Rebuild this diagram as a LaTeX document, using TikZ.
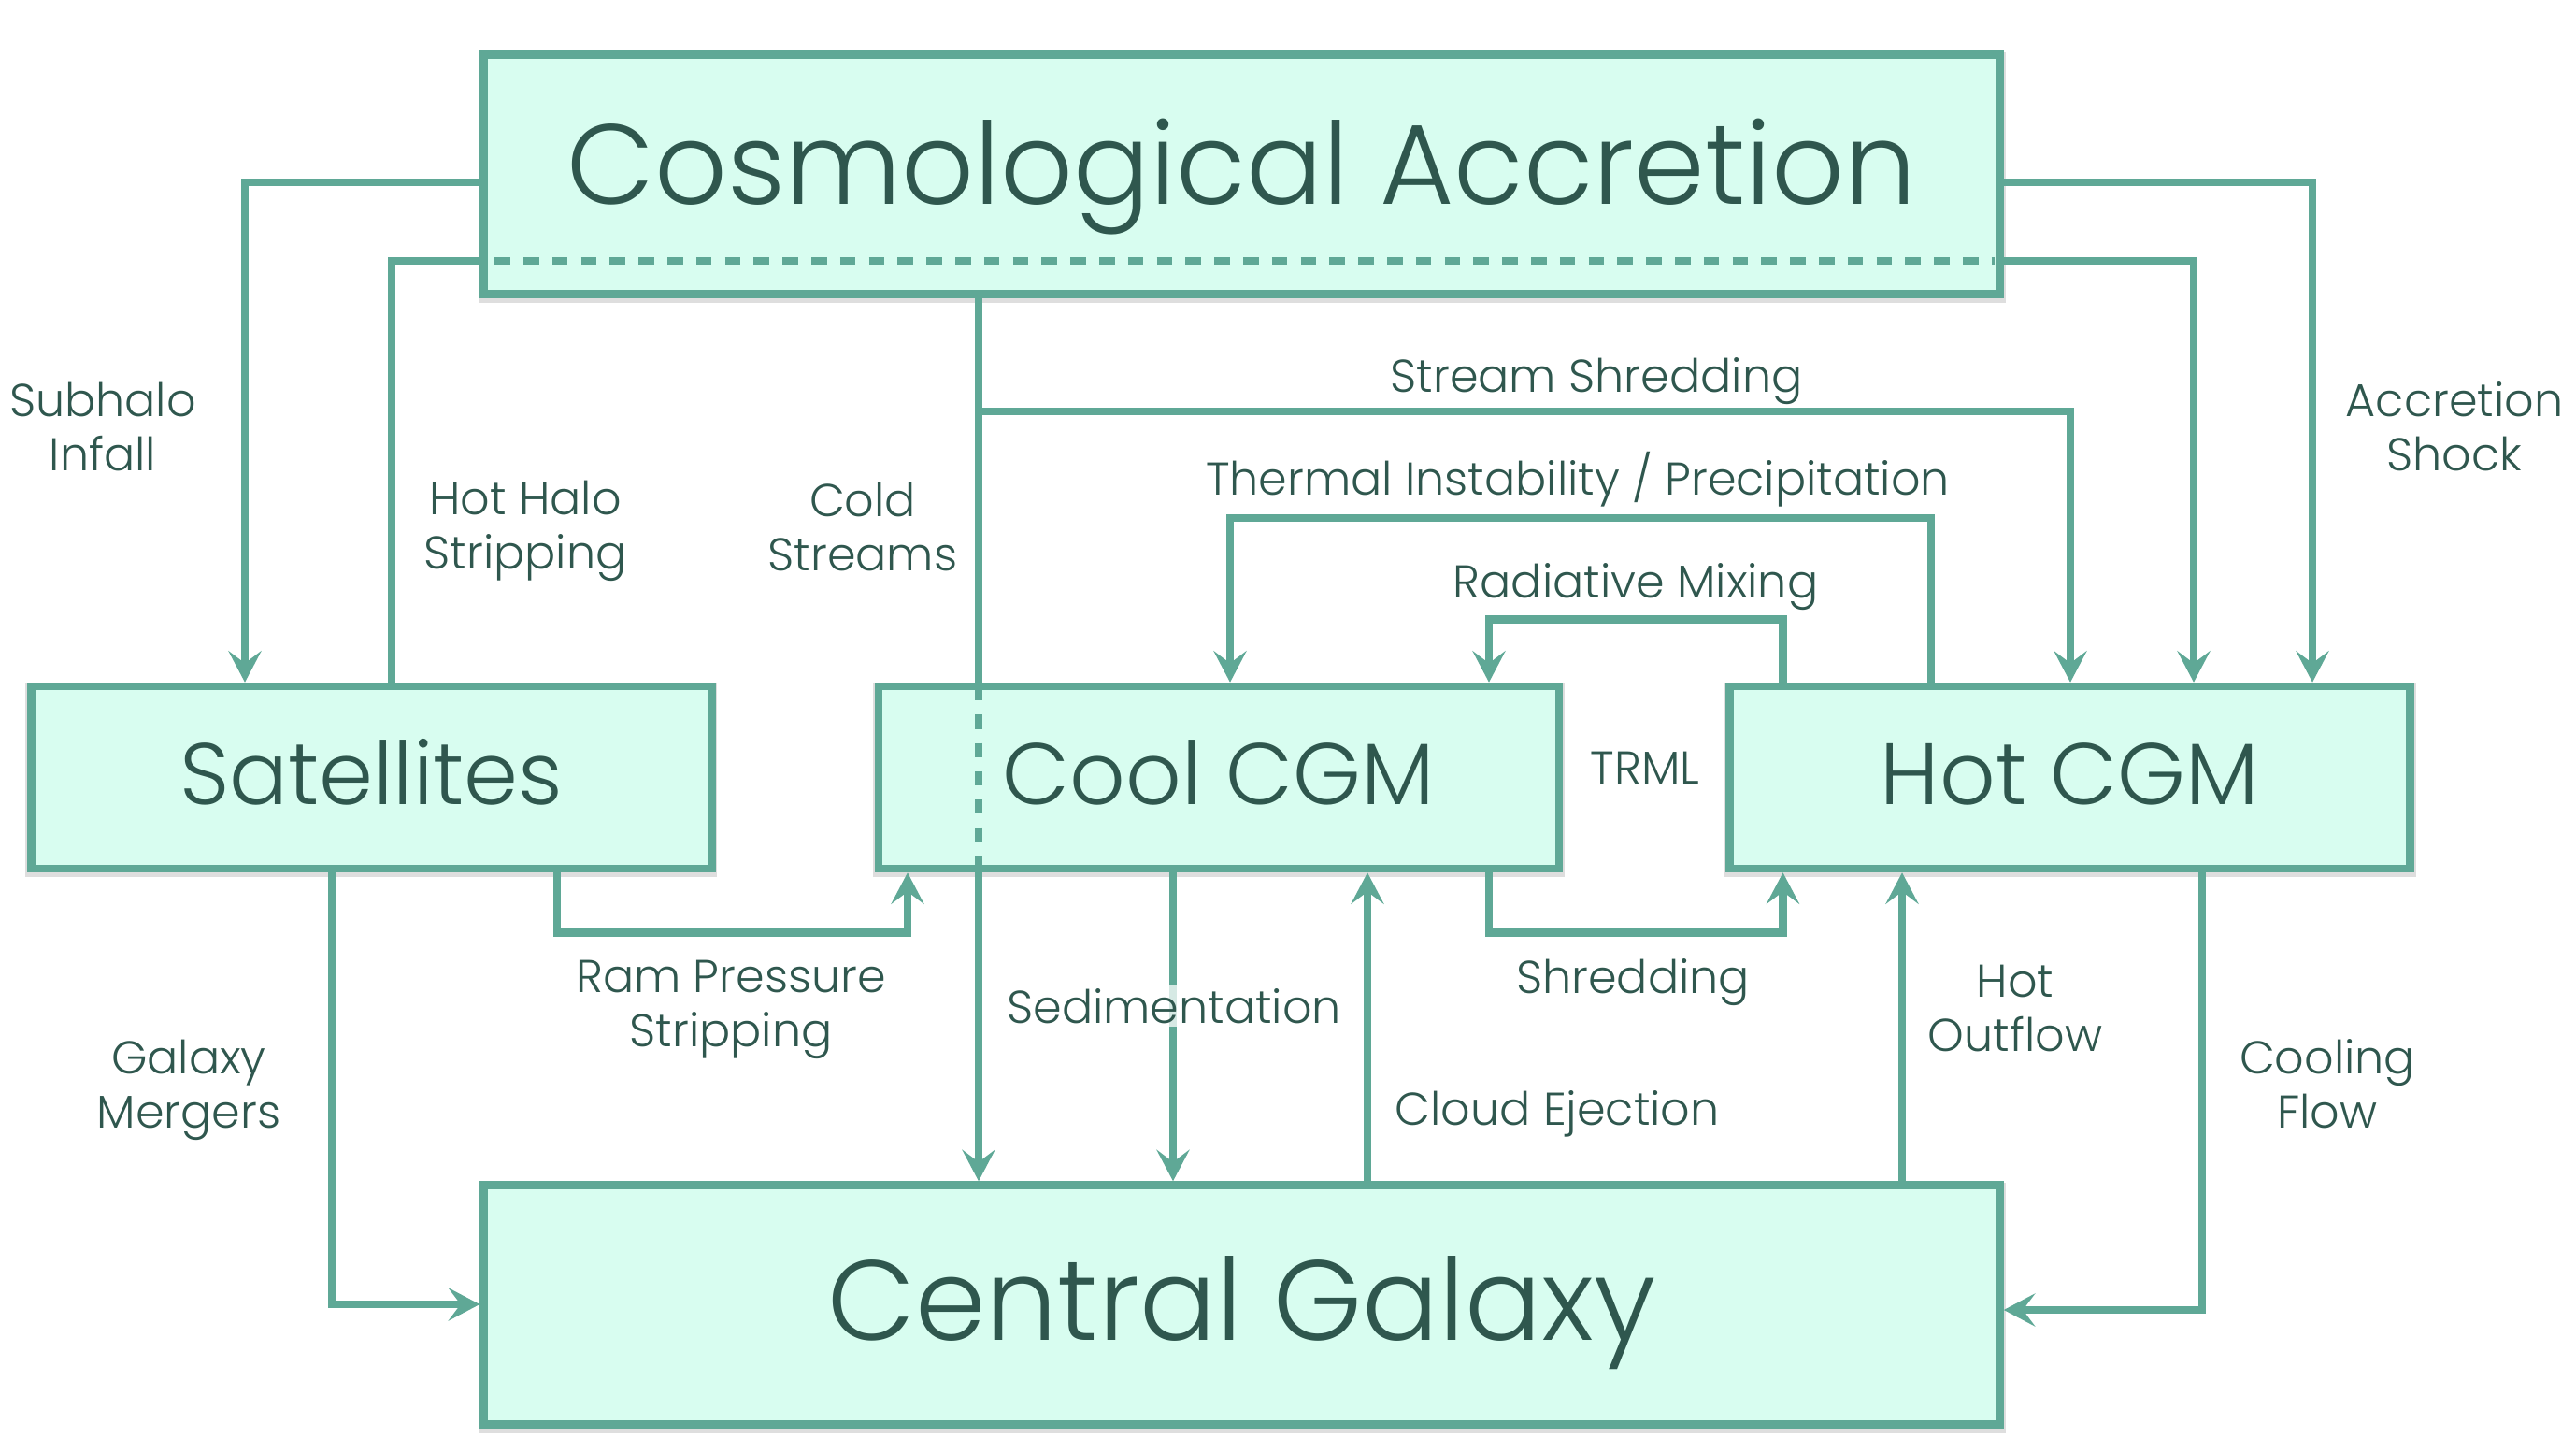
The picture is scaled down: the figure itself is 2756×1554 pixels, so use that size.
\documentclass[tikz,border=0pt]{standalone}
\usepackage{fontspec}
\IfFontExistsTF{Poppins Light}{\setmainfont{Poppins Light}}{\setmainfont{Poppins}}
\usetikzlibrary{arrows.meta,calc}
\definecolor{linec}{HTML}{5FA896}
\definecolor{fillc}{HTML}{D8FDF0}
\definecolor{textc}{HTML}{2F574E}
\newcommand{\lblfont}{\fontsize{12.3pt}{14.4pt}\selectfont}
\newcommand{\midfont}{\fontsize{23.3pt}{28pt}\selectfont}
\newcommand{\bigfont}{\fontsize{30.4pt}{36pt}\selectfont}
\begin{document}
\begin{tikzpicture}[x=0.25pt,y=-0.25pt,
  boxshadow/.style={preaction={draw=black,fill=black,opacity=0.13,line width=3pt,transform canvas={yshift=-0.75pt}}},
  box/.style={boxshadow,draw=linec,fill=fillc,line width=2.125pt,text=textc,inner sep=0pt},
  bigbox/.style={box,minimum width=405.5pt,minimum height=64pt,font=\bigfont,text depth=0pt},
  midbox/.style={box,minimum width=182pt,minimum height=48.75pt,font=\midfont,text depth=0pt,text height=14.25pt},
  flow/.style={draw=linec,line width=2.125pt},
  arr/.style={flow,-{Stealth[length=8.4pt,width=8.8pt,inset=3.3pt]}},
  lbl/.style={text=textc,font=\lblfont,align=center,inner sep=0pt,anchor=base}
]
\useasboundingbox (0,0) rectangle (2756,1554);

% boxes
\node[bigbox,text height=16pt] (cosmo) at (1328.5,186.5) {Cosmological Accretion};
\node[bigbox,text height=18.75pt] (central) at (1328.5,1395.5) {Central Galaxy};
\node[midbox] (sat) at (397.25,831.5) {Satellites};
\node[midbox] (cool) at (1303.75,831.5) {Cool CGM};
\node[midbox] (hot) at (2214.5,831.5) {Hot CGM};

% waypoints
\coordinate (p1) at (262,195);
\coordinate (p2) at (419,279);
\coordinate (p3) at (2347,279);
\coordinate (p4) at (2474,195);
\coordinate (p5) at (1047,440);
\coordinate (p6) at (2215,440);
\coordinate (p7) at (2066,554);
\coordinate (p8) at (1316,554);
\coordinate (p9) at (1907.5,662.5);
\coordinate (p10) at (1593,662.5);
\coordinate (p11) at (355,1395);
\coordinate (p12) at (596,997.5);
\coordinate (p13) at (971,997.5);
\coordinate (p14) at (1255,1100);
\coordinate (p15) at (1463,1100);
\coordinate (p16) at (1593,997.5);
\coordinate (p17) at (1907.5,997.5);
\coordinate (p18) at (2035,1100);
\coordinate (p19) at (2356,1401);

% connectors from Cosmological Accretion
\draw[arr] (cosmo.west |- p1) -| (sat.north -| p1);
\draw[flow] (sat.north -| p2) |- (cosmo.west |- p2);
\draw[flow,dash pattern=on 4.15pt off 3.55pt] ($(cosmo.west |- p2)+(16,0)$) -- ($(cosmo.east |- p2)+(-10,0)$);
\draw[arr] (cosmo.east |- p3) -| (hot.north -| p3);
\draw[arr] (cosmo.east |- p4) -| (hot.north -| p4);
\draw[flow] (cosmo.south -| p5) -- (cool.north -| p5);
\draw[flow,dash pattern=on 3.8pt off 3.78pt] ($(cool.north -| p5)+(0,4.25)$) -- ($(cool.south -| p5)+(0,-4.25)$);
\draw[arr] (cool.south -| p5) -- (central.north -| p5);
\draw[arr] (p5) -| (hot.north -| p6);

% CGM exchanges
\draw[arr] (hot.north -| p7) |- (p8) -- (cool.north -| p8);
\draw[arr] (hot.north -| p9) |- (p10) -- (cool.north -| p10);
\draw[arr] (sat.south -| p11) |- (central.west |- p11);
\draw[arr] (sat.south -| p12) |- (p13) -- (cool.south -| p13);
\draw[arr] (cool.south -| p14) -- (central.north -| p14);
\draw[arr] (central.north -| p15) -- (cool.south -| p15);
\draw[arr] (cool.south -| p16) |- (p17) -- (hot.south -| p17);
\draw[arr] (central.north -| p18) -- (hot.south -| p18);
\draw[arr] (hot.south -| p19) |- (central.east |- p19);

% labels (two-line labels: anchor at baseline of the last line)
\node[lbl] (l1) at (110,503) {Subhalo\\Infall};
\node[lbl] (l2) at (562,608) {Hot Halo\\Stripping};
\node[lbl] (l3) at (923,610) {Cold\\Streams};
\node[lbl] (l4) at (1708,419) {Stream Shredding};
\node[lbl] (l5) at (1688,529) {Thermal Instability / Precipitation};
\node[lbl] (l6) at (1750,639) {Radiative Mixing};
\node[lbl] (l7) at (2626,503) {Accretion\\Shock};
\node[lbl] (l8) at (1760,838) {TRML};
\node[lbl] (l9) at (782,1119) {Ram Pressure\\Stripping};
\node[lbl] (l10) at (202,1206) {Galaxy\\Mergers};
\node[lbl,fill=white,fill opacity=0.75,text opacity=1,inner sep=1pt] (l11) at (1256,1094) {Sedimentation};
\node[lbl] (l12) at (1747,1062) {Shredding};
\node[lbl] (l13) at (1666,1203) {Cloud Ejection};
\node[lbl] (l14) at (2156,1124) {Hot\\Outflow};
\node[lbl] (l15) at (2490,1206) {Cooling\\Flow};
\end{tikzpicture}
\end{document}
